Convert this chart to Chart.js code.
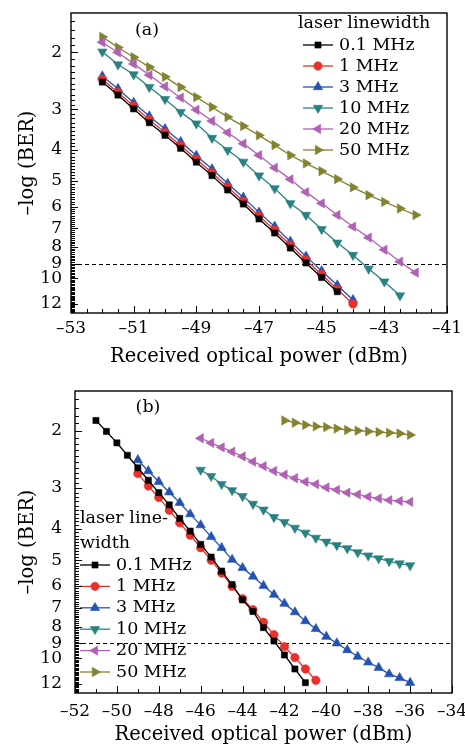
<!DOCTYPE html>
<html>
<head>
<meta charset="utf-8">
<script src="https://cdn.jsdelivr.net/npm/chart.js@4.4.1/dist/chart.umd.min.js"></script>
<style>
  html, body { margin: 0; padding: 0; background: #fff; }
  #wrap { position: relative; width: 465px; height: 747px; }
  canvas { position: absolute; left: 0; }
  #chartA { top: 0; }
  #chartB { top: 375px; }
</style>
</head>
<body>
<div id="wrap">
  <canvas id="chartA" width="465" height="372"></canvas>
  <canvas id="chartB" width="465" height="372"></canvas>
</div>
<script>
// series styles
const seriesLabels = ["0.1 MHz", "1 MHz", "3 MHz", "10 MHz", "20 MHz", "50 MHz"];
const seriesColors = ["#000000", "#e8312b", "#2553b3", "#2a8181", "#b061b4", "#83822f"];
const seriesMarkers = ["rect", "circle", "triangle", "triangle", "triangle", "triangle"];
const seriesRotation = [0, 0, 0, 180, 270, 90];
const seriesRadius = [4.3, 4.2, 5.4, 5.4, 5.4, 5.4];

// axis ticks
const yTickValues = [2, 3, 4, 5, 6, 7, 8, 9, 10, 12];
const thresholdBER = 9;

// panel (a): received power, dBm
const powerA = [-52, -51.5, -51, -50.5, -50, -49.5, -49, -48.5, -48, -47.5, -47,
  -46.5, -46, -45.5, -45, -44.5, -44, -43.5, -43, -42.5, -42];
const berA_01 = [2.47, 2.71, 2.99, 3.30, 3.61, 3.96, 4.37, 4.81, 5.33, 5.89, 6.55, 7.24, 8.06, 8.96, 9.94, 11.0];
const berA_1 = [2.42, 2.66, 2.93, 3.23, 3.54, 3.88, 4.28, 4.71, 5.22, 5.77, 6.41, 7.09, 7.89, 8.77, 9.73, 10.8, 12.0];
const berA_3 = [2.37, 2.59, 2.86, 3.15, 3.45, 3.78, 4.17, 4.59, 5.09, 5.62, 6.25, 6.91, 7.69, 8.55, 9.49, 10.5, 11.66];
const berA_10 = [1.99, 2.18, 2.34, 2.56, 2.79, 3.06, 3.32, 3.68, 4.01, 4.36, 4.81, 5.27, 5.86, 6.37, 7.05, 7.76, 8.47, 9.34, 10.24, 11.3];
const berA_20 = [1.86, 2.0, 2.17, 2.35, 2.55, 2.76, 3.01, 3.26, 3.54, 3.83, 4.16, 4.55, 4.94, 5.41, 5.86, 6.37, 6.92, 7.48, 8.16, 8.88, 9.6];
const berA_50 = [1.79, 1.93, 2.07, 2.22, 2.38, 2.56, 2.75, 2.95, 3.17, 3.38, 3.61, 3.87, 4.16, 4.41, 4.66, 4.93, 5.23, 5.53, 5.8, 6.08, 6.37];

// panel (b): received power, dBm
const powerB = [-51, -50.5, -50, -49.5, -49, -48.5, -48, -47.5, -47, -46.5, -46,
  -45.5, -45, -44.5, -44, -43.5, -43, -42.5, -42, -41.5, -41, -40.5, -40,
  -39.5, -39, -38.5, -38, -37.5, -37, -36.5, -36];
const startB = [-51, -49, -49, -46, -46, -42];
const berB_01 = [1.86, 2.01, 2.18, 2.38, 2.60, 2.84, 3.10, 3.38, 3.72, 4.07, 4.47, 4.89, 5.40, 5.94, 6.62, 7.19, 8.06, 8.86, 9.78, 10.8, 11.9];
const berB_1 = [2.71, 2.96, 3.21, 3.51, 3.84, 4.19, 4.58, 5.0, 5.48, 6.02, 6.57, 7.10, 7.76, 8.48, 9.22, 9.96, 10.8, 11.7];
const berB_3 = [2.46, 2.66, 2.87, 3.09, 3.33, 3.61, 3.90, 4.24, 4.58, 4.98, 5.28, 5.61, 5.99, 6.38, 6.80, 7.22, 7.69, 8.13, 8.59, 9.0, 9.44, 9.89, 10.3, 10.7, 11.2, 11.5, 11.9];
const berB_10 = [2.64, 2.76, 2.92, 3.05, 3.18, 3.36, 3.50, 3.69, 3.82, 3.98, 4.12, 4.27, 4.39, 4.50, 4.60, 4.73, 4.84, 4.94, 5.04, 5.12, 5.19];
const berB_20 = [2.11, 2.18, 2.25, 2.32, 2.40, 2.49, 2.57, 2.66, 2.73, 2.80, 2.87, 2.92, 2.99, 3.04, 3.10, 3.14, 3.19, 3.23, 3.27, 3.29, 3.31];
const berB_50 = [1.86, 1.89, 1.92, 1.94, 1.95, 1.97, 1.99, 2.0, 2.01, 2.02, 2.03, 2.04, 2.06];

const tickFont = { family: "DejaVu Serif", size: 17 };
const titleFont = { family: "DejaVu Serif", size: 19.5 };

function pairUp(xs, ys, start) {
  const off = xs.indexOf(start);
  return ys.map((v, i) => ({ x: xs[off + i], y: v }));
}

function makeDatasets(xs, list, starts) {
  return list.map((ys, i) => ({
    label: seriesLabels[i],
    data: pairUp(xs, ys, starts[i]),
    borderColor: seriesColors[i],
    backgroundColor: seriesColors[i],
    pointBackgroundColor: seriesColors[i],
    pointBorderColor: seriesColors[i],
    pointStyle: seriesMarkers[i],
    rotation: seriesRotation[i],
    pointRadius: seriesRadius[i],
    pointBorderWidth: 0.6,
    borderWidth: 1.3,
    tension: 0,
  }));
}

function decoPlugin(cfg) {
  return {
    id: "deco",
    beforeDatasetsDraw(chart) {
      const { ctx, chartArea: a, scales: { y } } = chart;
      const yy = Math.round(y.getPixelForValue(thresholdBER)) + 0.5;
      ctx.save();
      ctx.strokeStyle = "#000";
      ctx.lineWidth = 1;
      ctx.setLineDash([4, 3]);
      ctx.beginPath();
      ctx.moveTo(a.left, yy);
      ctx.lineTo(a.right, yy);
      ctx.stroke();
      ctx.restore();
    },
    afterDatasetsDraw(chart) {
      const { ctx } = chart;
      const lg = cfg.legend;
      ctx.save();
      ctx.font = "17.5px 'DejaVu Serif'";
      ctx.fillStyle = "#000";
      ctx.textBaseline = "middle";
      ctx.textAlign = "left";
      lg.title.forEach((t, i) => ctx.fillText(t, lg.titleX, lg.titleY + i * lg.titleStep));
      seriesLabels.forEach((lab, i) => {
        const yy = lg.rowY + i * lg.step;
        ctx.strokeStyle = seriesColors[i];
        ctx.fillStyle = seriesColors[i];
        ctx.lineWidth = 1.3;
        ctx.beginPath();
        ctx.moveTo(lg.x, yy);
        ctx.lineTo(lg.x + 30, yy);
        ctx.stroke();
        ctx.lineWidth = 0.6;
        Chart.helpers.drawPoint(ctx, {
          pointStyle: seriesMarkers[i],
          radius: seriesRadius[i],
          rotation: seriesRotation[i],
          borderWidth: 0.6,
        }, lg.x + 15, yy);
        ctx.fillStyle = "#000";
        ctx.fillText(lab, lg.x + 36, yy);
      });
      ctx.restore();
    },
    afterDraw(chart) {
      const { ctx, chartArea: a, scales: { x, y } } = chart;
      ctx.save();
      ctx.strokeStyle = "#000";
      ctx.lineWidth = 1.4;
      ctx.strokeRect(a.left, a.top, a.right - a.left, a.bottom - a.top);
      ctx.lineWidth = 1;
      ctx.beginPath();
      for (let v = cfg.xMin; v <= cfg.xMax + 1e-6; v += cfg.xMinorStep) {
        const px = Math.round(x.getPixelForValue(v)) + 0.5;
        const r = (v - cfg.xMin) / cfg.xMajorStep;
        const len = Math.abs(r - Math.round(r)) < 1e-6 ? 7 : 4;
        ctx.moveTo(px, a.bottom);
        ctx.lineTo(px, a.bottom - len);
      }
      for (let k = 16; k <= 127; k++) {
        const v = k / 10;
        const py = Math.round(y.getPixelForValue(v)) + 0.5;
        if (py < a.top || py > a.bottom) continue;
        const len = yTickValues.includes(v) ? 7 : 4;
        ctx.moveTo(a.left, py);
        ctx.lineTo(a.left + len, py);
      }
      ctx.stroke();
      ctx.font = "17.5px 'DejaVu Serif'";
      ctx.fillStyle = "#000";
      ctx.textAlign = "center";
      ctx.textBaseline = "middle";
      ctx.fillText(cfg.tag, cfg.tagX, cfg.tagY);
      ctx.restore();
    },
  };
}

function makeChart(id, datasets, cfg) {
  return new Chart(document.getElementById(id), {
    type: "line",
    data: { datasets },
    options: {
      responsive: false,
      animation: false,
      layout: { padding: cfg.padding },
      plugins: { legend: { display: false }, tooltip: { enabled: false } },
      scales: {
        x: {
          type: "linear",
          min: cfg.xMin,
          max: cfg.xMax,
          afterBuildTicks: (s) => {
            s.ticks = cfg.xLabels.map((v) => ({ value: v }));
          },
          afterFit: (s) => {
            s.height = cfg.xHeight;
            s.paddingLeft = 0;
            s.paddingRight = 0;
          },
          grid: { display: false, drawTicks: false },
          border: { display: false },
          ticks: {
            font: tickFont,
            color: "#000",
            padding: cfg.xTickPad,
            autoSkip: false,
            maxRotation: 0,
            callback: (v) => (v < 0 ? "\u2013" + Math.abs(v) : String(v)),
          },
          title: {
            display: true,
            text: "Received optical power (dBm)",
            font: titleFont,
            color: "#000",
            padding: { top: 0, bottom: cfg.xTitlePad },
          },
        },
        y: {
          type: "logarithmic",
          reverse: true,
          min: 1.51,
          max: 12.8,
          afterBuildTicks: (s) => {
            s.ticks = yTickValues.map((v) => ({ value: v }));
          },
          afterFit: (s) => {
            s.width = cfg.yWidth;
            s.paddingTop = 0;
            s.paddingBottom = 0;
          },
          grid: { display: false, drawTicks: false },
          border: { display: false },
          ticks: {
            font: tickFont,
            color: "#000",
            padding: cfg.yTickPad,
            autoSkip: false,
            callback: (v) => String(v),
          },
          title: {
            display: true,
            text: "\u2013log (BER)",
            font: titleFont,
            color: "#000",
            padding: { top: 16, bottom: 0 },
          },
        },
      },
    },
    plugins: [decoPlugin(cfg)],
  });
}

makeChart("chartA",
  makeDatasets(powerA, [berA_01, berA_1, berA_3, berA_10, berA_20, berA_50], [-52, -52, -52, -52, -52, -52]),
  {
    padding: { top: 13, right: 18, left: 0, bottom: 0 },
    xMin: -53, xMax: -41, xMajorStep: 2, xMinorStep: 0.5,
    xLabels: [-53, -51, -49, -47, -45, -43, -41],
    xHeight: 59, xTickPad: 5, xTitlePad: 3,
    yWidth: 71, yTickPad: 9,
    tag: "(a)", tagX: 147, tagY: 30,
    legend: { x: 303, titleX: 298, title: ["laser linewidth"], titleY: 23, titleStep: 0, rowY: 45, step: 21 },
  });

makeChart("chartB",
  makeDatasets(powerB, [berB_01, berB_1, berB_3, berB_10, berB_20, berB_50], startB),
  {
    padding: { top: 16, right: 13, left: 0, bottom: 0 },
    xMin: -52, xMax: -34, xMajorStep: 2, xMinorStep: 1,
    xLabels: [-52, -50, -48, -46, -44, -42, -40, -38, -36, -34],
    xHeight: 54, xTickPad: 8, xTitlePad: 0,
    yWidth: 75, yTickPad: 13,
    tag: "(b)", tagX: 148, tagY: 32,
    legend: { x: 80, titleX: 80, title: ["laser line-", "width"], titleY: 143, titleStep: 25, rowY: 190, step: 21.4 },
  });
</script>
</body>
</html>
